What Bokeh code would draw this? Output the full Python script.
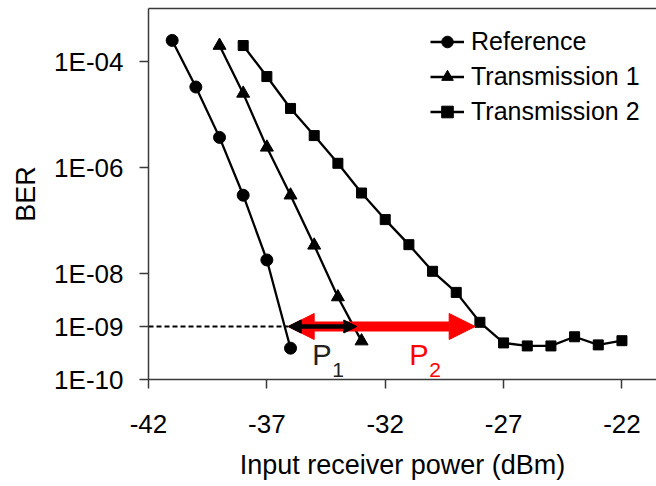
from bokeh.plotting import figure
from bokeh.models import (FixedTicker, CustomJSTickFormatter, LinearAxis, Legend,
                          LegendItem, Arrow, NormalHead, Range1d, Label)
from bokeh.embed import file_html
from bokeh.resources import INLINE

# Measured BER versus received optical power (dBm)
ref_power = [-41, -40, -39, -38, -37, -36]
ref_ber = [2.5e-4, 3.3e-5, 3.7e-6, 3.0e-7, 1.8e-8, 3.9e-10]

t1_power = [-39, -38, -37, -36, -35, -34, -33]
t1_ber = [2.0e-4, 2.5e-5, 2.4e-6, 3.0e-7, 3.4e-8, 3.6e-9, 5.3e-10]

t2_power = [-38, -37, -36, -35, -34, -33, -32, -31, -30, -29, -28,
            -27, -26, -25, -24, -23, -22]
t2_ber = [2.0e-4, 5.2e-5, 1.3e-5, 4.0e-6, 1.2e-6, 3.3e-7, 1.04e-7, 3.5e-8,
          1.1e-8, 4.4e-9, 1.2e-9, 4.9e-10, 4.3e-10, 4.3e-10, 6.4e-10,
          4.5e-10, 5.4e-10]

series_names = ["Reference", "Transmission 1", "Transmission 2"]

# Sensitivity at the BER threshold for each curve (power penalties P1, P2)
ber_threshold = 1e-9
ref_sens = -36.1
t1_sens = -33.2
t2_sens = -28.2

x_ticks = [-42, -37, -32, -27, -22]
y_ticks = [1e-10, 1e-9, 1e-8, 1e-6, 1e-4]

FONT = "Liberation Sans"
AXIS_COLOR = "#3a3a3a"

p = figure(width=656, height=486, y_axis_type="log",
           x_range=Range1d(-42, -20.54), y_range=Range1d(1e-10, 1e-3),
           output_backend="svg", toolbar_location=None,
           min_border_left=148, min_border_right=0,
           min_border_top=8, min_border_bottom=107)
p.outline_line_color = None
p.xgrid.visible = False
p.ygrid.visible = False
p.background_fill_color = "white"
p.border_fill_color = "white"

# Axes
for ax in (p.xaxis[0], p.yaxis[0]):
    ax.axis_line_color = AXIS_COLOR
    ax.axis_line_width = 1.5
    ax.major_tick_line_color = AXIS_COLOR
    ax.major_tick_line_width = 1.5
    ax.major_tick_out = 9
    ax.major_tick_in = 0
    ax.minor_tick_out = 0
    ax.minor_tick_in = 0
    ax.major_label_text_font = FONT
    ax.major_label_text_font_size = "26px"
    ax.major_label_text_color = "black"
    ax.axis_label_text_font = FONT
    ax.axis_label_text_font_size = "27px"
    ax.axis_label_text_font_style = "normal"
    ax.axis_label_text_color = "black"

p.xaxis.ticker = FixedTicker(ticks=x_ticks)
p.xaxis.formatter = CustomJSTickFormatter(code="return String(Math.round(tick));")
p.xaxis.axis_label = "Input receiver power (dBm)"
p.xaxis.major_label_standoff = 26
p.xaxis.axis_label_standoff = 14

p.yaxis.ticker = FixedTicker(ticks=y_ticks)
p.yaxis.formatter = CustomJSTickFormatter(code="""
    const e = Math.round(-Math.log10(tick));
    return "1E-" + String(e).padStart(2, "0");
""")
p.yaxis.axis_label = "BER"
p.yaxis.major_label_standoff = 16
p.yaxis.axis_label_standoff = 10

# Plain line closing the top of the plotting area
top = LinearAxis(ticker=FixedTicker(ticks=[]), axis_line_color=AXIS_COLOR,
                 axis_line_width=1.5, major_tick_out=0, major_tick_in=0,
                 minor_tick_out=0, minor_tick_in=0,
                 major_label_text_font_size="0px")
p.add_layout(top, "above")

# Threshold reference line
p.line([x_ticks[0], ref_sens], [ber_threshold, ber_threshold],
       line_color="black", line_width=2, line_dash="5 3")

# Data series
lw = 2.3
r_line = p.line(ref_power, ref_ber, line_color="black", line_width=lw)
r_pts = p.scatter(ref_power, ref_ber, marker="circle", size=12,
                  fill_color="black", line_color="black")
t1_line = p.line(t1_power, t1_ber, line_color="black", line_width=lw)
t1_pts = p.scatter(t1_power, t1_ber, marker="triangle", size=13,
                   fill_color="black", line_color="black")
t2_line = p.line(t2_power, t2_ber, line_color="black", line_width=lw)
t2_pts = p.scatter(t2_power, t2_ber, marker="square", size=10,
                   fill_color="black", line_color="black")

# Power penalty arrows
p.add_layout(Arrow(x_start=ref_sens, y_start=ber_threshold,
                   x_end=t2_sens, y_end=ber_threshold,
                   line_color="#ff0000", line_width=10,
                   start=NormalHead(size=26, fill_color="#ff0000", line_color="#ff0000"),
                   end=NormalHead(size=26, fill_color="#ff0000", line_color="#ff0000")))
p.add_layout(Arrow(x_start=ref_sens, y_start=ber_threshold,
                   x_end=t1_sens, y_end=ber_threshold,
                   line_color="black", line_width=4.5,
                   start=NormalHead(size=13, fill_color="black", line_color="black"),
                   end=NormalHead(size=13, fill_color="black", line_color="black")))

# P1 / P2 labels (letter with subscript)
def penalty_label(anchor, text, sub, color):
    p.add_layout(Label(x=anchor, y=ber_threshold, x_offset=24, y_offset=-28,
                       text=text, text_font=FONT, text_font_size="29px",
                       text_color=color, text_baseline="alphabetic"))
    p.add_layout(Label(x=anchor, y=ber_threshold, x_offset=44, y_offset=-43,
                       text=sub, text_font=FONT, text_font_size="21px",
                       text_color=color, text_baseline="alphabetic"))

penalty_label(ref_sens, "P", "1", "#222222")
penalty_label(t1_sens + 1.2, "P", "2", "#ff0000")

# Legend
legend = Legend(items=[
    LegendItem(label=series_names[0], renderers=[r_line, r_pts]),
    LegendItem(label=series_names[1], renderers=[t1_line, t1_pts]),
    LegendItem(label=series_names[2], renderers=[t2_line, t2_pts]),
], location=(282, 253))
legend.border_line_color = None
legend.background_fill_alpha = 0
legend.label_text_font = FONT
legend.label_text_font_size = "25px"
legend.label_text_color = "black"
legend.glyph_width = 34
legend.glyph_height = 29
legend.label_height = 29
legend.label_standoff = 7
legend.spacing = 6
legend.padding = 0
legend.margin = 0
p.add_layout(legend)

open("out.html", "w").write(file_html(p, INLINE))
